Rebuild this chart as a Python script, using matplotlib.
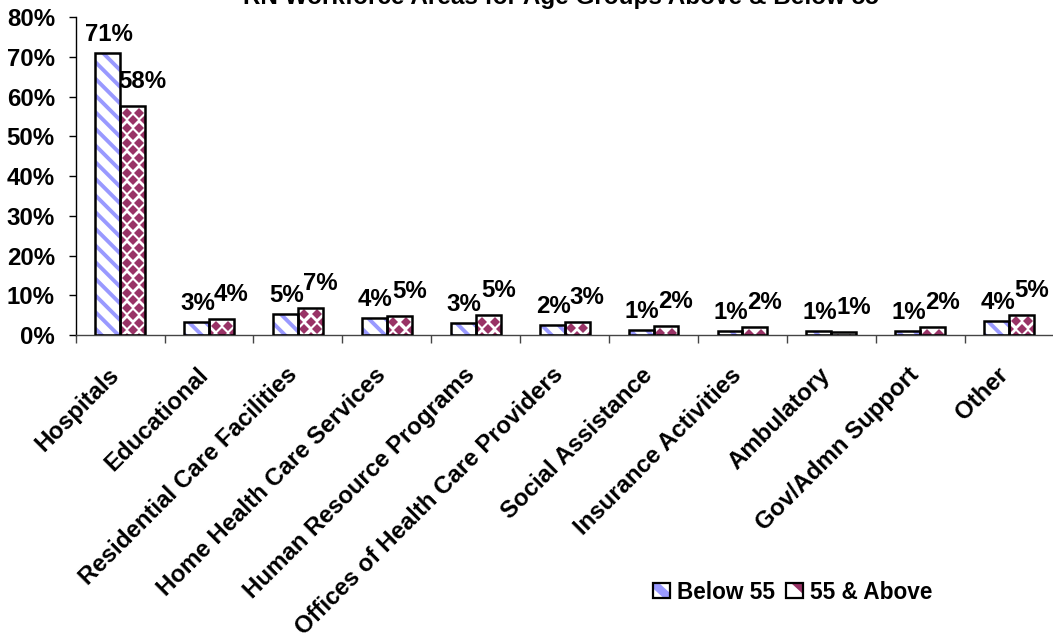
import numpy as np
import matplotlib
matplotlib.use('Agg')
import matplotlib.pyplot as plt
from matplotlib.patches import Patch, Polygon
from matplotlib.legend_handler import HandlerPatch, HandlerTuple

categories = ['Hospitals', 'Educational', 'Residential Care Facilities',
              'Home Health Care Services', 'Human Resource Programs',
              'Offices of Health Care Providers', 'Social Assistance',
              'Insurance Activities', 'Ambulatory', 'Gov/Admn Support', 'Other']
below_55 = [70.9, 3.3, 5.4, 4.3, 2.9, 2.4, 1.2, 0.9, 1.0, 0.9, 3.6]
above_55 = [57.6, 4.0, 6.9, 4.9, 5.0, 3.3, 2.2, 1.9, 0.7, 1.9, 5.1]
yticks = [0, 10, 20, 30, 40, 50, 60, 70, 80]
title = 'RN Workforce Areas for Age Groups Above & Below 55'

BLUE = '#9999FF'
MAROON = '#993366'
FS = 17.3

plt.rcParams['font.family'] = ['Liberation Sans', 'DejaVu Sans']
plt.rcParams['font.weight'] = 'bold'
plt.rcParams['hatch.linewidth'] = 2.8

fig = plt.figure(figsize=(10.53, 6.38), dpi=100)
ax = fig.add_axes([0.0719, 0.4749, 0.9286, 0.4984])
ax.set_xlim(-0.5, 10.5)
ax.set_ylim(0, 80)
ax.set_autoscale_on(False)

x = np.arange(len(categories))
w = 0.28

# blue striped bars
ax.bar(x - w / 2, below_55, w, color='white', edgecolor=BLUE, linewidth=0,
       hatch='\\\\', zorder=2)
outline1 = ax.bar(x - w / 2, below_55, w, fill=False, edgecolor='black',
                  linewidth=1.8, zorder=3)
ax.bar(x + w / 2, above_55, w, color='white', linewidth=0, zorder=2)
outline2 = ax.bar(x + w / 2, above_55, w, fill=False, edgecolor='black',
                  linewidth=1.8, zorder=3)


def diamond_fill(patch, color, px=12.3, py=7.5):
    # diamond texture like the excel pattern, clipped to the bar
    bb = patch.get_window_extent()
    xs, ys = [], []
    row = 0
    y = bb.y1 - 6.5
    while y > bb.y0 - py:
        off = 0 if row % 2 == 0 else px / 2
        xx = bb.x0 + 6.5 + off - px
        while xx < bb.x1 + px:
            xs.append(xx)
            ys.append(y)
            xx += px
        y -= py
        row += 1
    pts = ax.transData.inverted().transform(np.column_stack([xs, ys]))
    ln, = ax.plot(pts[:, 0], pts[:, 1], ls='none', marker='D', ms=5.4,
                  mew=0, color=color, zorder=2.5)
    ln.set_clip_path(patch)


for p in outline2.patches:
    diamond_fill(p, MAROON)

# value labels
for xi, v in zip(x, below_55):
    ax.annotate(f'{round(v)}%', xy=(xi - w / 2, v), xytext=(1, 12),
                textcoords='offset pixels', ha='center', va='baseline',
                fontsize=FS, fontweight='bold')
for xi, v in zip(x, above_55):
    ax.annotate(f'{round(v)}%', xy=(xi + w / 2, v), xytext=(10, 18),
                textcoords='offset pixels', ha='center', va='baseline',
                fontsize=FS, fontweight='bold')

# axes
for s in ['top', 'right']:
    ax.spines[s].set_visible(False)
ax.spines['left'].set_linewidth(1)
ax.spines['bottom'].set_linewidth(1)
ax.spines['bottom'].set_color('#444444')

ax.set_yticks(yticks)
ax.set_yticklabels([f'{t}%' for t in yticks], fontsize=FS, fontweight='bold')
ax.tick_params(axis='y', direction='out', length=5, width=1, pad=10)

ax.set_xticks(np.arange(-0.5, 11, 1))
ax.set_xticklabels([])
ax.tick_params(axis='x', which='major', direction='out', length=5.5, width=1,
               color='#444444')

# category labels, rotated like excel
for xi, cat in zip(x, categories):
    ax.annotate(cat, xy=(xi, 0), xycoords=('data', 'axes fraction'),
                xytext=(0, -41), textcoords='offset pixels', rotation=45,
                ha='right', va='baseline', rotation_mode='anchor',
                fontsize=FS, fontweight='bold')

fig.text(0.533, 1 - 4 / 638, title, ha='center', va='baseline',
         fontsize=17.5, fontweight='bold')


# legend keys
def blue_key(legend, orig_handle, xdescent, ydescent, width, height, fontsize):
    x0, y0 = -xdescent, -ydescent
    pts = [(x0, y0 + height), (x0 + 0.35 * width, y0 + height),
           (x0 + width, y0 + 0.35 * height), (x0 + width, y0),
           (x0 + 0.65 * width, y0), (x0, y0 + 0.65 * height)]
    return Polygon(pts, closed=True)


def maroon_key(legend, orig_handle, xdescent, ydescent, width, height, fontsize):
    x0, y0 = -xdescent, -ydescent
    pts = [(x0 + 0.3 * width, y0 + height), (x0 + width, y0 + height),
           (x0 + width, y0 + 0.3 * height)]
    return Polygon(pts, closed=True)


k1 = Patch(facecolor=BLUE, edgecolor='none')
k2 = Patch(facecolor=MAROON, edgecolor='none')
box1 = Patch(fill=False, edgecolor='black', linewidth=1.6)
box2 = Patch(fill=False, edgecolor='black', linewidth=1.6)
ax.legend([(k1, box1), (k2, box2)], ['Below 55', '55 & Above'],
          handler_map={tuple: HandlerTuple(ndivide=1, pad=0),
                       k1: HandlerPatch(patch_func=blue_key),
                       k2: HandlerPatch(patch_func=maroon_key)},
          loc='center', bbox_to_anchor=(0.7526, 0.0721),
          bbox_transform=fig.transFigure, ncol=2, frameon=False,
          handlelength=0.75, handleheight=0.68, handletextpad=0.3,
          columnspacing=0.5, prop={'size': 16.3, 'weight': 'bold'})

fig.savefig('out.png', dpi=100)
